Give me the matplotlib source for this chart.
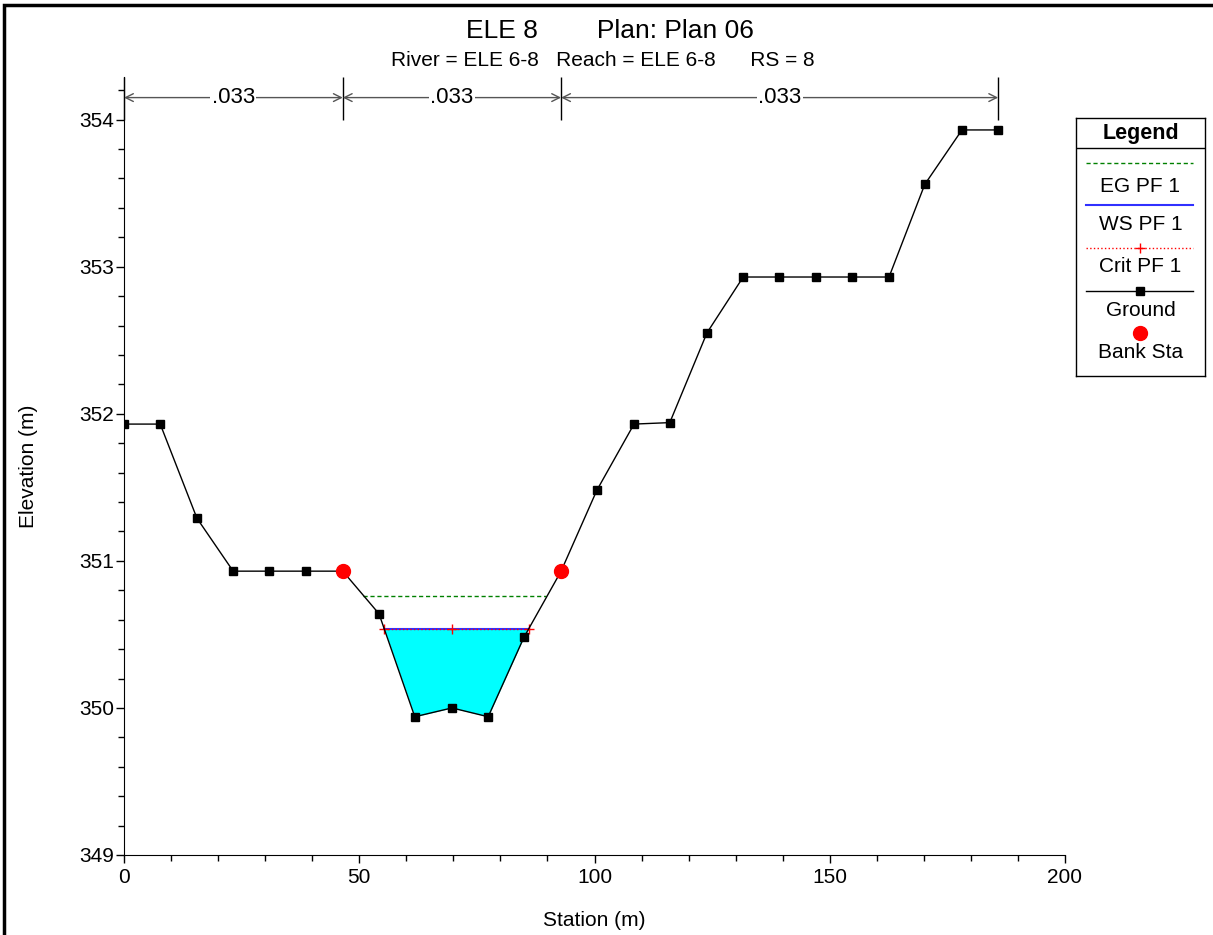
import numpy as np
import matplotlib
matplotlib.use("Agg")
import matplotlib.pyplot as plt
from matplotlib.patches import Rectangle

plt.rcParams['font.family'] = ['Liberation Sans', 'DejaVu Sans']

# ground profile (station m, elevation m)
station = [0, 7.7, 15.5, 23.2, 30.8, 38.7, 46.5, 54.2, 61.8, 69.7, 77.4, 85.0,
           92.9, 100.5, 108.4, 116.0, 123.9, 131.6, 139.2, 147.1, 154.7, 162.6,
           170.2, 178.1, 185.8]
elev = [351.93, 351.93, 351.29, 350.93, 350.93, 350.93, 350.93, 350.64, 349.94,
        350.00, 349.94, 350.48, 350.93, 351.48, 351.93, 351.94, 352.55, 352.93,
        352.93, 352.93, 352.93, 352.93, 353.56, 353.93, 353.93]

bank_sta = [46.5, 92.9]
bank_elev = [350.93, 350.93]

# water surface / energy grade / critical
ws_elev = 350.54
ws_x = [55.3, 86.1]
eg_elev = 350.76
eg_x = [50.8, 89.7]
crit_x = [55.3, 69.7, 86.1]
crit_elev = [350.54, 350.54, 350.54]

# manning's n regions
n_breaks = [0, 46.5, 92.9, 185.8]
n_vals = ['.033', '.033', '.033']

fig = plt.figure(figsize=(12.13, 9.35), dpi=100)
ax = fig.add_axes([124/1213, 1-855/935, (1065-124)/1213, (855-77)/935])

st = np.array(station)
el = np.array(elev)

# water fill
ax.fill_between(st, el, ws_elev, where=el <= ws_elev, interpolate=True,
                color='#00ffff', lw=0, zorder=1)

ax.plot(eg_x, [eg_elev, eg_elev], color='#008000', ls=(0, (3, 2)), lw=1, zorder=3)
ax.plot(ws_x, [ws_elev, ws_elev], color='#3030ff', lw=1.5, zorder=3)
ax.plot(crit_x, crit_elev, color='red', ls=':', lw=1, marker='+', ms=7, zorder=4)
ax.plot(st, el, color='black', lw=1, marker='s', ms=6, zorder=5)
ax.plot(bank_sta, bank_elev, 'o', color='red', ms=10, zorder=6)

# n value arrows
ytop = 354.29
yarr = 354.15
ax.vlines(n_breaks, 354.0, ytop, color='black', lw=1, clip_on=False)
for i, lab in enumerate(n_vals):
    x0, x1 = n_breaks[i], n_breaks[i+1]
    ax.annotate('', xy=(x0, yarr), xytext=(x1, yarr),
                arrowprops=dict(arrowstyle='<->', color='#555555', lw=1,
                                shrinkA=0, shrinkB=0, mutation_scale=14),
                annotation_clip=False)
    ax.text((x0+x1)/2, yarr, lab, ha='center', va='center', fontsize=16,
            bbox=dict(facecolor='white', edgecolor='none', pad=1))

ax.set_xlim(0, 200)
ax.set_ylim(349, ytop)
ax.set_xticks([0, 50, 100, 150, 200])
ax.set_xticks(np.arange(0, 201, 10), minor=True)
ax.set_yticks([349, 350, 351, 352, 353, 354])
ax.set_yticks(np.arange(349, 354.3, 0.2), minor=True)
ax.tick_params(labelsize=15, length=6, width=1)
ax.tick_params(axis='y', pad=1)
ax.tick_params(which='minor', length=4, width=1)
ax.spines['top'].set_visible(False)
ax.spines['right'].set_visible(False)
ax.spines['bottom'].set_bounds(0, 200)
ax.set_xlabel('Station (m)', fontsize=15, labelpad=17)
ax.set_ylabel('Elevation (m)', fontsize=15, labelpad=30)

fig.text(0.503, 1-31/935, 'ELE 8        Plan: Plan 06', ha='center', va='center', fontsize=19)
fig.text(0.497, 1-61/935, 'River = ELE 6-8   Reach = ELE 6-8      RS = 8',
         ha='center', va='center', fontsize=15)

# legend box drawn in pixel coordinates
lax = fig.add_axes([1076/1213, 1-376/935, 129/1213, 258/935])
lax.set_xlim(0, 129)
lax.set_ylim(258, 0)
lax.set_xticks([])
lax.set_yticks([])
for s in lax.spines.values():
    s.set_linewidth(1)
lax.text(64.5, 15, 'Legend', ha='center', va='center', fontsize=15.5, fontweight='bold')
lax.plot([0, 129], [30, 30], color='black', lw=1)
lax.plot([10, 117], [45, 45], color='#008000', ls=(0, (3, 2)), lw=1)
lax.text(64.5, 68, 'EG PF 1', ha='center', va='center', fontsize=15)
lax.plot([10, 117], [87, 87], color='#3030ff', lw=1.5)
lax.text(64.5, 107, 'WS PF 1', ha='center', va='center', fontsize=15)
lax.plot([10, 117], [130, 130], color='red', ls=':', lw=1)
lax.plot([64], [130], color='red', marker='+', ms=7)
lax.text(64.5, 149, 'Crit PF 1', ha='center', va='center', fontsize=15)
lax.plot([10, 117], [173, 173], color='black', lw=1)
lax.plot([64], [173], color='black', marker='s', ms=6)
lax.text(64.5, 192, 'Ground', ha='center', va='center', fontsize=15)
lax.plot([64], [215], 'o', color='red', ms=10)
lax.text(64.5, 234, 'Bank Sta', ha='center', va='center', fontsize=15)

# outer frame
fig.add_artist(Rectangle((4/1213, -0.1), 1.2, 1.1 - 5/935, transform=fig.transFigure,
                         fill=False, edgecolor='black', lw=2.5))

fig.savefig('out.png', dpi=100)
